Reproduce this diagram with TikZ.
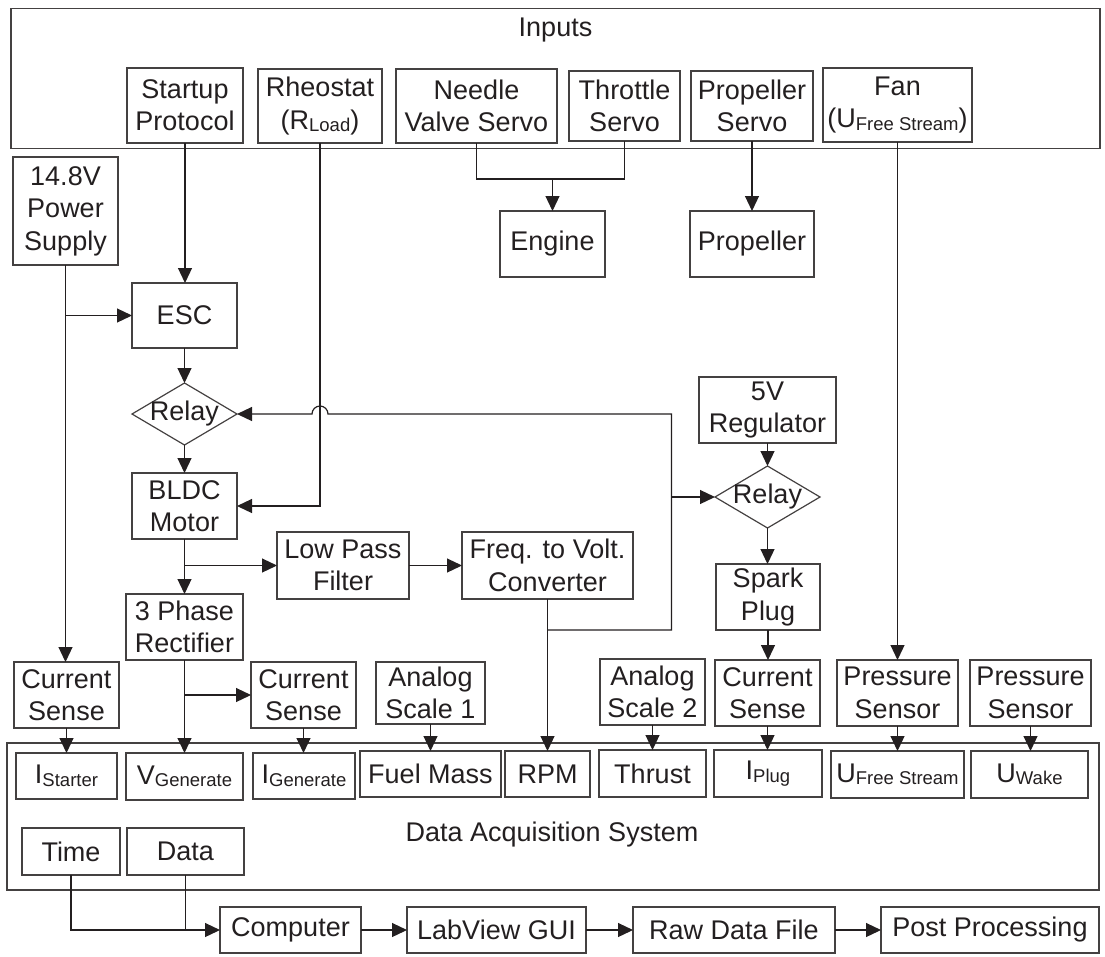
\documentclass[tikz,border=0pt]{standalone}
\usepackage{fontspec}
\setmainfont{Liberation Sans}
\usetikzlibrary{arrows.meta,shapes.geometric,calc}
\definecolor{ink}{RGB}{35,31,32}
\newcommand\sbx[1]{\raisebox{-2.5pt}{\fontsize{18.5}{20}\selectfont #1}}
\newcommand\bx[6]{\node[box,minimum width={#4pt-#2pt},minimum height={#5pt-#3pt}] (#1) at ({(#2+#4)/2},{(#3+#5)/2}) {#6};}
\tikzset{
  box/.style={draw=ink!85,line width=1.2pt,inner sep=0pt,outer sep=0pt,align=center,text=ink},
  frame/.style={draw=ink!85,line width=1.2pt,inner sep=0pt,outer sep=0pt},
  relay/.style={diamond,draw=ink!85,line width=1.2pt,inner sep=0pt,outer sep=0pt,minimum width=105pt,minimum height=62pt},
  lbl/.style={text=ink,inner sep=0pt},
  arr/.style={draw=ink,line width=1.2pt,-{Triangle[length=15pt,width=14pt]}},
  ln/.style={draw=ink,line width=1.2pt}
}
\begin{document}
\begin{tikzpicture}[x=1pt,y=-1pt,font=\fontsize{27}{32.4}\selectfont]
\useasboundingbox (0,0) rectangle (1105,956);
% containers
\node[frame,minimum width=1089pt,minimum height=140pt] (inputs) at (555.5,78.5) {};
\node[lbl] (inputslbl) at (555.5,30) {Inputs};
\node[frame,minimum width=1092pt,minimum height=147pt] (daq) at (553,816.5) {};
\node[lbl] (daqlbl) at (552,835) {Data Acquisition System};
% input boxes
\bx{startup}{127}{68}{243}{143}{Startup\\Protocol}
\bx{rheo}{258}{69}{382}{143}{Rheostat\\(R\sbx{Load})}
\bx{needle}{396}{69}{557}{143}{Needle\\Valve Servo}
\bx{throttle}{569}{71}{680}{141}{Throttle\\Servo}
\bx{propservo}{691}{71}{813}{141}{Propeller\\Servo}
\bx{fan}{823}{68}{972}{142}{Fan\\(U\sbx{Free Stream})}
% middle
\bx{ps}{13}{157}{118}{265}{14.8V\\Power\\Supply}
\bx{engine}{500}{211}{605}{277}{Engine}
\bx{prop}{690}{211}{814}{277}{Propeller}
\bx{esc}{132}{283}{237}{348}{ESC}
\node[relay,label={[lbl]center:Relay}] (relayA) at (184.5,414) {};
\bx{bldc}{132}{473}{237}{539}{BLDC\\Motor}
\bx{lpf}{277}{532}{409}{599}{Low Pass\\Filter}
\bx{ftv}{462}{532}{633}{599}{Freq. to Volt.\\Converter}
\bx{rect}{126}{594}{243}{660}{3 Phase\\Rectifier}
\bx{reg}{699}{377}{836}{443}{5V\\Regulator}
\node[relay,label={[lbl]center:Relay}] (relayB) at (767.5,497) {};
\bx{spark}{716}{564}{820}{630}{Spark\\Plug}
% sensors
\bx{csA}{14}{662}{119}{728}{Current\\Sense}
\bx{csB}{251}{662}{356}{728}{Current\\Sense}
\bx{asA}{376}{662}{485}{724}{Analog\\Scale 1}
\bx{asB}{600}{659}{705}{725}{Analog\\Scale 2}
\bx{csC}{715}{660}{820}{726}{Current\\Sense}
\bx{prA}{837}{660}{958}{726}{Pressure\\Sensor}
\bx{prB}{970}{660}{1091}{726}{Pressure\\Sensor}
% DAQ channels
\bx{ist}{16}{753}{117}{799}{I\sbx{Starter}}
\bx{vgen}{126}{753}{243}{800}{V\sbx{Generate}}
\bx{igen}{253}{753}{355}{799}{I\sbx{Generate}}
\bx{fuel}{360}{751}{501}{797}{Fuel Mass}
\bx{rpm}{505}{751}{590}{797}{RPM}
\bx{thrust}{599}{750}{706}{797}{Thrust}
\bx{iplug}{714}{750}{822}{797}{I\sbx{Plug}}
\bx{ufs}{831}{751}{964}{798}{U\sbx{Free Stream}}
\bx{uwake}{971}{751}{1088}{798}{U\sbx{Wake}}
\bx{time}{22}{828}{120}{875}{Time}
\bx{data}{127}{828}{244}{875}{Data}
% output chain
\bx{comp}{220}{907}{361}{953}{Computer}
\bx{gui}{407}{907}{586}{953}{LabView GUI}
\bx{raw}{633}{907}{835}{953}{Raw Data File}
\bx{post}{881}{907}{1099}{953}{Post Processing}
% connectors
\draw[arr] (startup.south) -- (startup.south |- esc.north);
\draw[arr] (ps.south) -- (ps.south |- csA.north);
\draw[arr] (ps.south |- esc.west) -- (esc.west);
\draw[arr] (rheo.south) |- (bldc.east);
\draw[arr] (esc.south) -- (relayA.north);
\draw[arr] (relayA.south) -- (bldc.north);
\draw[arr] (bldc.south) -- (bldc.south |- rect.north);
\draw[arr] (bldc.south |- lpf.west) -- (lpf.west);
\draw[arr] (lpf.east) -- (ftv.west);
\draw[arr] (ftv.south) -- (ftv.south |- rpm.north);
\coordinate (jb) at (671.5,630);
\coordinate (jt) at (671.5,414);
\draw[arr] (ftv.south |- jb) -- (jb) -- (jt) -- ($(rheo.south |- jt)+(8,0)$) arc[start angle=0,end angle=180,radius=8pt] -- (relayA.east);
\draw[arr] (jt |- relayB.west) -- (relayB.west);
\draw[arr] (reg.south) -- (relayB.north);
\draw[arr] (relayB.south) -- (relayB.south |- spark.north);
\draw[arr] (spark.south) -- (spark.south |- csC.north);
\draw[arr] (fan.south) -- (fan.south |- prA.north);
\coordinate (ej) at (552.5,179);
\draw[ln] (needle.south) |- (ej);
\draw[ln] (throttle.south) |- (ej);
\draw[arr] (ej) -- (ej |- engine.north);
\draw[arr] (propservo.south) -- (propservo.south |- prop.north);
\draw[arr] (rect.south) -- (rect.south |- vgen.north);
\draw[arr] (rect.south |- csB.west) -- (csB.west);
\draw[arr] (csA.south) -- (csA.south |- ist.north);
\draw[arr] (csB.south) -- (csB.south |- igen.north);
\draw[arr] (asA.south) -- (asA.south |- fuel.north);
\draw[arr] (asB.south) -- (asB.south |- thrust.north);
\draw[arr] (csC.south) -- (csC.south |- iplug.north);
\draw[arr] (prA.south) -- (prA.south |- ufs.north);
\draw[arr] (prB.south) -- (prB.south |- uwake.north);
\draw[arr] (time.south) |- (comp.west);
\draw[ln] (data.south) -- (data.south |- comp.west);
\draw[arr] (comp.east) -- (gui.west);
\draw[arr] (gui.east) -- (raw.west);
\draw[arr] (raw.east) -- (post.west);
\end{tikzpicture}
\end{document}
